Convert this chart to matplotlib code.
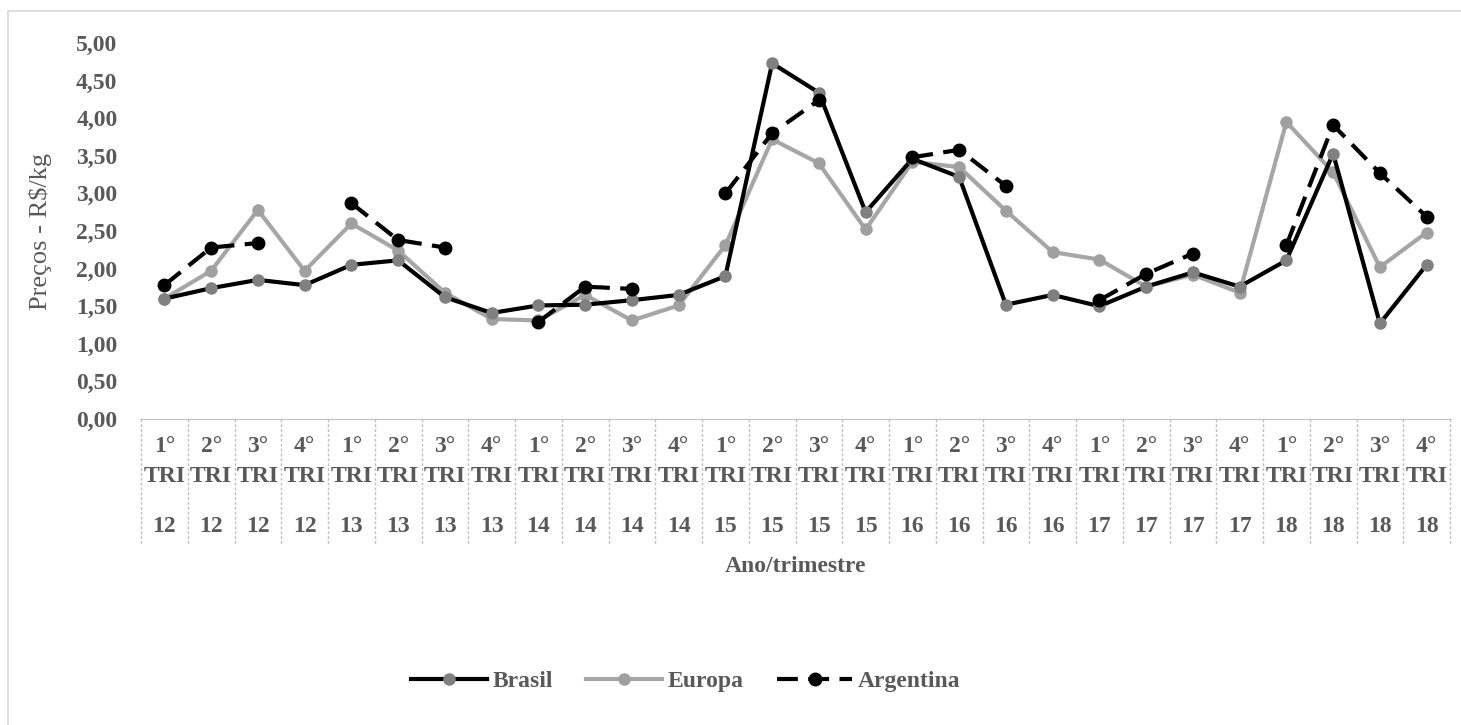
import numpy as np
import matplotlib.pyplot as plt
from matplotlib.patches import Rectangle
import matplotlib.transforms as mtransforms

quarters = ["1°", "2°", "3°", "4°"] * 7
years = [y for y in ["12", "13", "14", "15", "16", "17", "18"] for _ in range(4)]

brasil = [1.60, 1.74, 1.85, 1.78, 2.05, 2.11, 1.62, 1.41, 1.51, 1.52, 1.58, 1.65,
          1.90, 4.73, 4.34, 2.75, 3.46, 3.22, 1.52, 1.65, 1.50, 1.76, 1.95, 1.76,
          2.11, 3.53, 1.27, 2.05]
europa = [1.60, 1.97, 2.78, 1.97, 2.60, 2.24, 1.68, 1.33, 1.31, 1.65, 1.31, 1.51,
          2.31, 3.72, 3.40, 2.52, 3.42, 3.35, 2.77, 2.22, 2.12, 1.76, 1.92, 1.68,
          3.95, 3.28, 2.02, 2.48]
argentina = [1.78, 2.28, 2.34, np.nan, 2.87, 2.38, 2.28, np.nan, 1.29, 1.76, 1.73, np.nan,
             3.00, 3.80, 4.24, np.nan, 3.48, 3.58, 3.10, np.nan, 1.58, 1.93, 2.20, np.nan,
             2.31, 3.91, 3.27, 2.69]

W, H = 1461, 725
fig = plt.figure(figsize=(W / 100, H / 100), dpi=100)
plt.rcParams['font.family'] = ['Liberation Serif', 'DejaVu Serif']
txt = '#595959'
fs = 17

# chart border (top/left visible)
fig.patches.append(Rectangle((8 / W, -0.1), 1.2, 1 - 11 / H + 0.1, transform=fig.transFigure,
                             facecolor='none', edgecolor='#d9d9d9', lw=1.2))

ax = fig.add_axes([141 / W, 1 - 419 / H, (1450 - 141) / W, (419 - 43) / H])
x = np.arange(len(brasil))

ax.plot(x, brasil, color='black', lw=3, marker='o', ms=8,
        markerfacecolor='#808080', markeredgecolor='#808080', label='Brasil', zorder=3)
ax.plot(x, europa, color='#a6a6a6', lw=3, marker='o', ms=8,
        markerfacecolor='#a0a0a0', markeredgecolor='#a0a0a0', label='Europa', zorder=2)
ax.plot(x, argentina, color='black', lw=3, ls=(0, (5, 2.5)), marker='o', ms=9,
        markerfacecolor='black', markeredgecolor='black', label='Argentina', zorder=4)

ax.set_xlim(-0.5, len(brasil) - 0.5)
ax.set_ylim(0, 5)
ax.set_yticks(np.arange(0, 5.01, 0.5))
ax.set_yticklabels([f"{v:.2f}".replace('.', ',') for v in np.arange(0, 5.01, 0.5)],
                   fontsize=fs, fontweight='bold', color=txt)
ax.tick_params(axis='y', length=0, pad=17)
ax.set_xticks([])
for s in ['top', 'right', 'left']:
    ax.spines[s].set_visible(False)
ax.spines['bottom'].set_color('#bfbfbf')
ax.spines['bottom'].set_linestyle((0, (1, 1)))

ax.set_ylabel("Preços - R$/kg", fontsize=19, color=txt)
ax.yaxis.set_label_coords(-0.068, 0.5)

trans = mtransforms.blended_transform_factory(ax.transData, ax.transAxes)
span = 419 - 43
for b in np.arange(-0.5, len(brasil), 1.0):
    ax.plot([b, b], [0, -(545 - 419) / span], transform=trans, clip_on=False,
            color='#bfbfbf', lw=1, ls=(0, (2, 1.5)))
for i, (q, yr) in enumerate(zip(quarters, years)):
    ax.text(i, -(446 - 419) / span, q, transform=trans, ha='center', va='center',
            fontsize=fs, fontweight='bold', color=txt)
    ax.text(i, -(477 - 419) / span, "TRI", transform=trans, ha='center', va='center',
            fontsize=fs, fontweight='bold', color=txt)
    ax.text(i, -(527 - 419) / span, yr, transform=trans, ha='center', va='center',
            fontsize=fs, fontweight='bold', color=txt)

ax.text(0.5, -(566 - 419) / span, "Ano/trimestre", transform=ax.transAxes,
        ha='center', va='center', fontsize=fs, fontweight='bold', color=txt)

leg = fig.legend(loc='center', bbox_to_anchor=(686 / W, 1 - 681 / H), ncol=3,
                 frameon=False, handlelength=3.2, handletextpad=0.25, columnspacing=1.4,
                 prop={'size': 17, 'weight': 'bold'})
for t in leg.get_texts():
    t.set_color(txt)

fig.savefig("out.png", dpi=100, facecolor='white')
